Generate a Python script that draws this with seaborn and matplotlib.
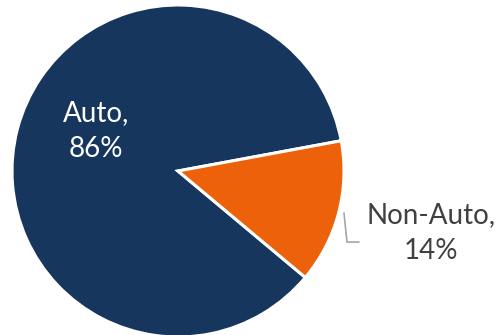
import matplotlib
matplotlib.use("Agg")
import matplotlib.pyplot as plt
import seaborn as sns

# Share of vehicles by category
categories = ["Auto", "Non-Auto"]
shares = [86, 14]
colors = ["#17365D", "#EC610A"]

sns.set_theme(style="white")
plt.rcParams["font.family"] = ["Lato", "DejaVu Sans"]

fig = plt.figure(figsize=(5.02, 3.35), dpi=100)
ax = fig.add_axes([0, 0, 1, 1])
ax.pie(shares, colors=colors, startangle=10.5, counterclock=True, radius=1.0,
       wedgeprops=dict(edgecolor="white", linewidth=2.2))
ax.set_xlim(-178 / 166, (502 - 178) / 166)
ax.set_ylim(-164 / 166, (335 - 164) / 166)
ax.set_aspect("auto")
ax.axis("off")

ax.text(-0.494, 0.241, f"{categories[0]},\n{shares[0]}%", color="white",
        fontsize=20, ha="center", va="center", linespacing=1.5)
ax.text(1.524, -0.373, f"{categories[1]},\n{shares[1]}%", color="#404040",
        fontsize=20, ha="center", va="center", linespacing=1.5)
ax.plot([1.0, 1.018, 1.09], [-0.253, -0.428, -0.428], color="#A6A6A6", lw=1.2)

fig.savefig("out.png", dpi=100)
